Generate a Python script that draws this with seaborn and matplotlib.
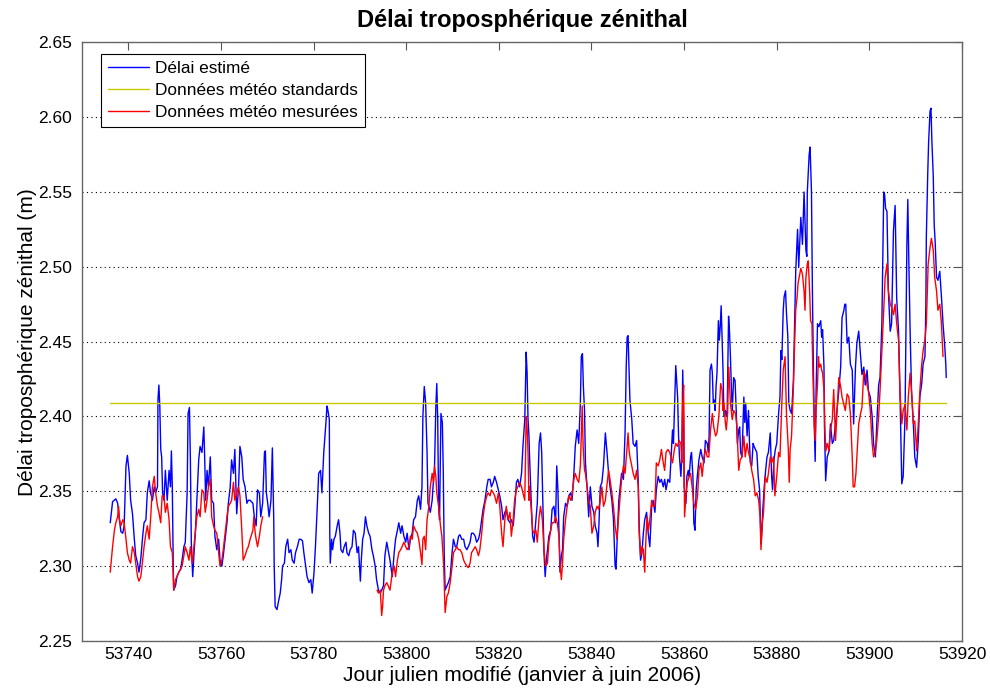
import matplotlib
matplotlib.use("Agg")
import numpy as np
import pandas as pd
import seaborn as sns
import matplotlib.pyplot as plt
from matplotlib.lines import Line2D
from matplotlib.ticker import FormatStrFormatter

# ---------------- data (days are offsets from MJD 53700) ----------------
MJD_BASE = 53700

blue_day = [
    36.1, 36.6, 37.3, 37.7, 38.0, 38.4, 38.8, 39.1, 39.5, 39.8,
    40.2, 40.5, 40.9, 41.3, 41.6, 42.0, 42.3, 42.7, 43.1, 43.4,
    43.8, 44.1, 44.5, 44.8, 45.2, 45.6, 45.9, 46.3, 46.4, 46.6,
    46.8, 47.0, 47.2, 47.4, 47.7, 48.0, 48.4, 48.8, 49.1, 49.3,
    49.5, 49.7, 49.8, 50.2, 50.5, 50.9, 51.3, 51.6, 52.0, 52.3,
    52.7, 52.9, 53.2, 53.4, 53.6, 53.9, 54.1, 54.5, 54.8, 55.2,
    55.5, 55.9, 56.3, 56.5, 56.7, 57.0, 57.3, 57.7, 58.0, 58.4,
    58.7, 59.1, 59.5, 59.8, 60.2, 60.5, 60.9, 61.3, 61.6, 62.0,
    62.3, 62.7, 63.0, 63.4, 63.8, 64.1, 64.5, 64.8, 65.2, 65.6,
    65.9, 66.3,
    66.9, 67.2, 67.6, 67.9, 68.3, 68.6, 69.0, 69.4, 69.6, 69.8,
    70.1, 70.4, 70.8, 71.1, 71.4, 71.5, 71.7, 72.1, 72.4, 72.8,
    73.1, 73.3, 73.7, 74.0, 74.4, 74.7, 75.1, 75.4, 75.8, 76.1,
    76.5, 76.9, 77.2, 77.6, 77.9, 78.3, 78.6, 79.0, 79.4, 79.7,
    80.1, 80.4, 80.8, 81.1, 81.5, 81.8, 82.2, 82.6, 82.9, 83.1,
    83.4, 83.5, 83.6, 83.9, 84.1, 84.4, 84.7, 85.1, 85.4, 85.7,
    85.9, 86.3, 86.6, 87.0, 87.2, 87.6, 87.9, 88.3, 88.6, 89.0,
    89.4, 89.7, 90.1, 90.3, 90.6, 90.9, 91.2, 91.5, 91.9, 92.2,
    92.6, 92.9, 93.3, 93.6, 94.0, 94.4, 94.7, 95.1, 95.4, 95.8,
    96.1, 96.5,
    97.0, 97.4, 97.7, 98.1, 98.4, 98.8, 99.1, 99.5, 99.9, 100.2,
    100.6, 100.9, 101.3, 101.6, 102.0, 102.4, 102.7, 103.1, 103.4, 103.6,
    103.9, 104.2, 104.5, 104.7, 104.9, 105.2, 105.6, 105.9, 106.1, 106.4,
    106.6, 106.8, 107.0, 107.2, 107.5, 107.8, 108.0, 108.2, 108.4, 108.8,
    109.1, 109.5, 109.9, 110.2, 110.6, 110.9, 111.3, 111.6, 112.0, 112.4,
    112.7, 113.1, 113.4, 113.8, 114.1, 114.5, 114.9, 115.2, 115.6, 115.9,
    116.3, 116.6, 117.0, 117.4, 117.7, 118.1, 118.4, 118.8, 119.1, 119.5,
    119.9, 120.2, 120.6, 120.9, 121.3, 121.6, 122.0, 122.4, 122.7, 123.1,
    123.4, 123.8, 124.1, 124.5, 124.9, 125.2, 125.4, 125.6, 125.9, 126.1,
    126.3, 126.5, 126.6,
    127.0, 127.3, 127.6, 128.0, 128.3, 128.7, 129.0, 129.25, 129.5, 129.75,
    130.0, 130.2, 130.5, 130.8, 131.2, 131.5, 131.9, 132.25, 132.5, 132.75,
    133.0, 133.2, 133.5, 133.75, 134.0, 134.4, 134.75, 135.1, 135.5, 135.8,
    136.2, 136.5, 136.9, 137.25, 137.6, 137.8, 138.05, 138.25, 138.5, 138.7,
    139.05, 139.4, 139.75, 140.1, 140.5, 140.8, 141.2, 141.4, 141.6, 141.9,
    142.25, 142.6, 143.0, 143.3, 143.7, 144.0, 144.4, 144.75, 145.1, 145.3,
    145.6, 145.9, 146.2, 146.5, 146.9, 147.25, 147.5, 147.7, 147.9, 148.1,
    148.3, 148.7, 149.0, 149.4, 149.75, 150.1, 150.3, 150.6, 150.9, 151.2,
    151.5, 151.9, 152.25, 152.6, 153.0, 153.3, 153.7, 154.0, 154.4, 154.75,
    155.1, 155.5, 155.8, 156.1, 156.5, 156.9,
    157.5, 157.7, 158.0, 158.2, 158.4, 158.6, 158.8, 159.0, 159.3, 159.5,
    159.7, 159.9, 160.0, 160.4, 160.6, 160.9, 161.1, 161.4, 161.6, 161.9,
    162.1, 162.35, 162.6, 162.85, 163.2, 163.6, 163.9, 164.3, 164.6, 165.0,
    165.2, 165.4, 165.6, 165.9, 166.1, 166.3, 166.5, 166.7, 166.9, 167.1,
    167.4, 167.6, 167.8, 168.0, 168.2, 168.4, 168.6, 168.9, 169.1, 169.3,
    169.6, 169.8, 170.0, 170.2, 170.4, 170.7, 171.0, 171.3, 171.5, 171.8,
    172.0, 172.2, 172.5, 172.9, 173.1, 173.3, 173.6, 173.9, 174.1, 174.3,
    174.6, 174.9, 175.1, 175.4, 175.7, 176.0, 176.3, 176.6, 176.8, 177.0,
    177.3, 177.6, 177.9, 178.2, 178.6, 178.9, 179.1, 179.4, 179.7, 180.0,
    180.4, 180.7, 180.9, 181.1, 181.4, 181.6, 181.9, 182.1, 182.4, 182.6,
    182.9, 183.2, 183.6, 183.9, 184.1, 184.5, 184.75,
    185.2, 185.55, 185.9, 186.3, 186.5, 186.6, 187.0, 187.2, 187.5, 187.7,
    187.9, 188.1, 188.3, 188.5, 188.8, 189.1, 189.5, 189.7, 189.9, 190.2,
    190.3, 190.56, 190.9, 191.3, 191.6, 192.0, 192.3, 192.7, 193.1, 193.4,
    193.8, 194.1, 194.5, 194.7, 194.9, 195.2, 195.56, 195.9, 196.3, 196.6,
    197.0, 197.3, 197.7, 198.1, 198.4, 198.8, 199.1, 199.5, 199.8, 200.2,
    200.6, 200.9, 201.3, 201.6, 202.0, 202.3, 202.7, 203.1, 203.3, 203.5,
    203.8, 204.1, 204.5, 204.8, 205.2, 205.56, 205.9, 206.3, 206.6, 207.0,
    207.3, 207.7, 208.1, 208.3, 208.5, 208.8, 209.1, 209.5, 209.8, 210.2,
    210.56, 210.9, 211.3, 211.6, 212.0, 212.2, 212.3, 212.6, 212.8, 213.1,
    213.3, 213.5, 213.8, 214.0, 214.2, 214.5, 214.8, 215.2, 215.56, 215.9,
    216.3, 216.5, 216.6,
]
blue_zwd = [
    2.329, 2.343, 2.345, 2.342, 2.333, 2.323, 2.322, 2.327, 2.367, 2.374,
    2.362, 2.344, 2.335, 2.318, 2.307, 2.302, 2.296, 2.305, 2.320, 2.329,
    2.331, 2.349, 2.357, 2.349, 2.344, 2.353, 2.349, 2.353, 2.411, 2.421,
    2.407, 2.378, 2.373, 2.349, 2.344, 2.364, 2.344, 2.364, 2.353, 2.377,
    2.353, 2.300, 2.284, 2.287, 2.293, 2.296, 2.298, 2.304, 2.313, 2.316,
    2.349, 2.402, 2.406, 2.371, 2.316, 2.293, 2.304, 2.324, 2.344, 2.371,
    2.380, 2.376, 2.393, 2.371, 2.344, 2.364, 2.353, 2.373, 2.344, 2.342,
    2.320, 2.311, 2.318, 2.304, 2.300, 2.307, 2.318, 2.329, 2.342, 2.353,
    2.371, 2.362, 2.378, 2.335, 2.353, 2.380, 2.373, 2.358, 2.353, 2.342,
    2.344, 2.344,
    2.342, 2.333, 2.327, 2.351, 2.349, 2.333, 2.342, 2.376, 2.377, 2.349,
    2.342, 2.333, 2.344, 2.379, 2.331, 2.300, 2.273, 2.271, 2.276, 2.282,
    2.291, 2.300, 2.302, 2.313, 2.318, 2.309, 2.311, 2.304, 2.302, 2.309,
    2.313, 2.318, 2.318, 2.317, 2.309, 2.300, 2.293, 2.289, 2.291, 2.282,
    2.296, 2.313, 2.340, 2.362, 2.364, 2.349, 2.376, 2.393, 2.407, 2.404,
    2.398, 2.322, 2.302, 2.318, 2.311, 2.318, 2.320, 2.327, 2.331, 2.322,
    2.311, 2.309, 2.313, 2.316, 2.309, 2.307, 2.311, 2.313, 2.324, 2.322,
    2.309, 2.313, 2.290, 2.304, 2.318, 2.322, 2.333, 2.327, 2.322, 2.320,
    2.311, 2.307, 2.300, 2.291, 2.284, 2.282, 2.284, 2.287, 2.307, 2.316,
    2.311, 2.304,
    2.293, 2.309, 2.318, 2.324, 2.329, 2.322, 2.327, 2.320, 2.316, 2.322,
    2.311, 2.318, 2.322, 2.331, 2.333, 2.344, 2.347, 2.338, 2.353, 2.400,
    2.420, 2.409, 2.376, 2.342, 2.340, 2.336, 2.344, 2.358, 2.364, 2.407,
    2.422, 2.398, 2.340, 2.331, 2.402, 2.396, 2.364, 2.309, 2.284, 2.287,
    2.289, 2.293, 2.309, 2.318, 2.313, 2.313, 2.320, 2.321, 2.318, 2.318,
    2.313, 2.311, 2.313, 2.316, 2.322, 2.322, 2.320, 2.316, 2.318, 2.322,
    2.331, 2.338, 2.344, 2.353, 2.358, 2.358, 2.353, 2.356, 2.360, 2.356,
    2.351, 2.347, 2.340, 2.331, 2.336, 2.338, 2.331, 2.329, 2.331, 2.327,
    2.338, 2.356, 2.358, 2.353, 2.362, 2.380, 2.389, 2.398, 2.443, 2.429,
    2.398, 2.387, 2.376,
    2.342, 2.320, 2.316, 2.331, 2.342, 2.382, 2.389, 2.376, 2.342, 2.309,
    2.293, 2.302, 2.311, 2.320, 2.324, 2.338, 2.340, 2.329, 2.367, 2.351,
    2.320, 2.296, 2.307, 2.311, 2.333, 2.342, 2.340, 2.347, 2.349, 2.344,
    2.362, 2.380, 2.391, 2.382, 2.409, 2.440, 2.442, 2.420, 2.404, 2.369,
    2.353, 2.333, 2.353, 2.340, 2.336, 2.327, 2.322, 2.313, 2.327, 2.353,
    2.356, 2.367, 2.389, 2.378, 2.362, 2.353, 2.344, 2.331, 2.300, 2.298,
    2.322, 2.344, 2.353, 2.362, 2.358, 2.389, 2.433, 2.453, 2.454, 2.433,
    2.411, 2.398, 2.382, 2.380, 2.384, 2.356, 2.327, 2.304, 2.309, 2.322,
    2.331, 2.336, 2.322, 2.313, 2.340, 2.344, 2.336, 2.351, 2.360, 2.356,
    2.358, 2.353, 2.358, 2.351, 2.358, 2.356,
    2.391, 2.382, 2.413, 2.434, 2.424, 2.413, 2.387, 2.373, 2.360, 2.373,
    2.431, 2.398, 2.353, 2.342, 2.360, 2.364, 2.360, 2.373, 2.376, 2.360,
    2.329, 2.324, 2.351, 2.360, 2.371, 2.378, 2.373, 2.369, 2.384, 2.382,
    2.376, 2.387, 2.431, 2.435, 2.429, 2.409, 2.411, 2.404, 2.420, 2.429,
    2.464, 2.451, 2.460, 2.474, 2.453, 2.431, 2.400, 2.404, 2.400, 2.404,
    2.467, 2.457, 2.440, 2.420, 2.404, 2.426, 2.424, 2.400, 2.382, 2.391,
    2.393, 2.376, 2.373, 2.413, 2.396, 2.409, 2.387, 2.404, 2.384, 2.369,
    2.367, 2.382, 2.380, 2.378, 2.376, 2.360, 2.351, 2.315, 2.324, 2.338,
    2.353, 2.364, 2.373, 2.376, 2.389, 2.360, 2.351, 2.371, 2.378, 2.382,
    2.402, 2.413, 2.444, 2.438, 2.471, 2.480, 2.484, 2.469, 2.453, 2.409,
    2.404, 2.402, 2.424, 2.469, 2.497, 2.525, 2.500,
    2.533, 2.515, 2.550, 2.511, 2.507, 2.550, 2.575, 2.580, 2.550, 2.484,
    2.435, 2.395, 2.370, 2.417, 2.462, 2.460, 2.464, 2.453, 2.458, 2.433,
    2.395, 2.357, 2.373, 2.377, 2.395, 2.382, 2.384, 2.395, 2.408, 2.417,
    2.433, 2.466, 2.471, 2.475, 2.475, 2.449, 2.453, 2.435, 2.431, 2.395,
    2.433, 2.449, 2.457, 2.440, 2.428, 2.433, 2.421, 2.431, 2.417, 2.413,
    2.400, 2.382, 2.373, 2.395, 2.421, 2.426, 2.462, 2.550, 2.548, 2.539,
    2.537, 2.484, 2.457, 2.462, 2.524, 2.541, 2.479, 2.457, 2.417, 2.355,
    2.360, 2.400, 2.515, 2.545, 2.507, 2.457, 2.417, 2.395, 2.373, 2.366,
    2.384, 2.413, 2.422, 2.435, 2.440, 2.475, 2.520, 2.562, 2.584, 2.604,
    2.606, 2.584, 2.560, 2.528, 2.517, 2.493, 2.491, 2.497, 2.480, 2.462,
    2.446, 2.435, 2.426,
]

# standard meteo model: constant level
std_day = [36.1, 216.6]
std_zwd = [2.409, 2.409]

# measured meteo: January segment
red_day_a = [
    36.1, 36.6, 37.0, 37.3, 37.7, 37.9, 38.1, 38.4, 38.8, 39.1,
    39.5, 39.8, 40.2, 40.5, 40.9, 41.3, 41.6, 42.0, 42.3, 42.7,
    43.1, 43.4, 43.8, 44.1, 44.5, 44.8, 45.2, 45.6, 45.9, 46.3,
    46.6, 47.0, 47.3, 47.7, 48.0, 48.4, 48.8, 49.1, 49.5, 49.7,
    49.8, 50.2, 50.5, 50.9, 51.3, 51.6, 52.0, 52.3, 52.7, 53.1,
    53.4, 53.8, 54.1, 54.5, 54.8, 55.2, 55.5, 55.9, 56.3, 56.6,
    57.0, 57.3, 57.7, 58.0, 58.4, 58.7, 59.1, 59.5, 59.8, 60.2,
    60.5, 60.9, 61.3, 61.6, 62.0, 62.3, 62.7, 63.0, 63.4, 63.8,
    64.1, 64.5, 64.8, 65.2, 65.6, 65.9, 66.3, 66.9, 67.1, 67.4,
    67.6, 67.9, 68.3, 68.6, 69.0,
]
red_zwd_a = [
    2.296, 2.313, 2.324, 2.329, 2.333, 2.340, 2.331, 2.327, 2.331, 2.329,
    2.318, 2.309, 2.304, 2.302, 2.313, 2.309, 2.302, 2.293, 2.290, 2.293,
    2.304, 2.313, 2.322, 2.327, 2.318, 2.331, 2.353, 2.360, 2.349, 2.340,
    2.336, 2.329, 2.347, 2.347, 2.336, 2.342, 2.331, 2.313, 2.309, 2.293,
    2.284, 2.291, 2.293, 2.296, 2.298, 2.300, 2.307, 2.313, 2.309, 2.304,
    2.313, 2.302, 2.311, 2.324, 2.333, 2.338, 2.333, 2.351, 2.349, 2.336,
    2.344, 2.353, 2.358, 2.333, 2.327, 2.324, 2.322, 2.309, 2.300, 2.304,
    2.311, 2.322, 2.333, 2.340, 2.342, 2.344, 2.356, 2.344, 2.349, 2.353,
    2.347, 2.324, 2.304, 2.307, 2.311, 2.313, 2.318, 2.324, 2.333, 2.322,
    2.318, 2.313, 2.320, 2.327, 2.333,
]

# measured meteo: February - June segment
red_day_b = [
    93.7, 94.0, 94.4, 94.7, 94.9, 95.1, 95.4, 95.8, 96.1, 96.5,
    97.0, 97.4, 97.7, 98.1, 98.4, 98.8, 99.1, 99.5, 99.9, 100.2,
    100.6, 100.9, 101.3, 101.6, 102.0, 102.4, 102.7, 103.1, 103.4, 103.6,
    103.9, 104.2, 104.5, 104.9, 105.2, 105.6, 105.9, 106.1, 106.4, 106.6,
    107.0, 107.4, 107.7, 108.1, 108.4, 108.8, 109.1, 109.5, 109.9, 110.2,
    110.6, 110.9, 111.3, 111.6, 112.0, 112.4, 112.7, 113.1, 113.4, 113.8,
    114.1, 114.5, 114.9, 115.2, 115.6, 115.9, 116.3, 116.6, 117.0, 117.4,
    117.7, 118.1, 118.4, 118.8, 119.1, 119.5, 119.9, 120.2, 120.6, 120.9,
    121.3, 121.6, 122.0, 122.4, 122.7, 123.1, 123.4, 123.8, 124.1, 124.5,
    124.9, 125.2, 125.6, 125.7, 125.9, 126.1, 126.3, 126.5, 126.6,
    127.0, 127.3, 127.6, 128.0, 128.3, 128.7, 129.0, 129.4, 129.75, 130.1,
    130.5, 130.8, 131.2, 131.5, 131.9, 132.25, 132.6, 133.0, 133.2, 133.5,
    133.75, 134.0, 134.4, 134.75, 135.1, 135.5, 135.8, 136.2, 136.5, 136.9,
    137.25, 137.6, 138.0, 138.2, 138.5, 138.7, 139.05, 139.4, 139.75, 140.1,
    140.5, 140.8, 141.2, 141.55, 141.9, 142.25, 142.6, 143.0, 143.3, 143.7,
    144.0, 144.4, 144.75, 145.1, 145.5, 145.8, 146.2, 146.5, 146.9, 147.25,
    147.6, 147.9, 148.1, 148.3, 148.7, 149.0, 149.4, 149.75, 150.1, 150.3,
    150.6, 150.9, 151.2, 151.5, 151.75, 152.0, 152.3, 152.6, 153.0, 153.3,
    153.7, 154.0, 154.4, 154.75, 155.1, 155.5, 155.8, 156.1, 156.5, 156.9,
    157.5, 157.9, 158.2, 158.6, 158.9, 159.3, 159.5, 159.7, 159.9, 160.0,
    160.1, 160.4, 160.7, 161.1, 161.4, 161.8, 162.1, 162.5, 162.9, 163.2,
    163.6, 163.9, 164.3, 164.6, 165.0, 165.35, 165.7, 166.1, 166.4, 166.8,
    167.1, 167.5, 167.9, 168.2, 168.4, 168.6, 168.9, 169.1, 169.4, 169.6,
    169.8, 170.0, 170.4, 170.7, 171.1, 171.4, 171.8, 172.1, 172.5, 172.9,
    173.2, 173.6, 173.9, 174.3, 174.6, 175.0, 175.35, 175.7, 176.1, 176.4,
    176.6, 176.9, 177.15, 177.5, 177.9, 178.2, 178.6, 178.9, 179.3, 179.6,
    180.0, 180.4, 180.7, 181.1, 181.4, 181.8, 182.1, 182.5, 182.7, 182.9,
    183.2, 183.6, 183.9, 184.1, 184.4, 184.6,
    185.2, 185.55, 185.9, 186.1, 186.3, 186.6, 186.8, 187.1, 187.3, 187.6,
    187.8, 188.1, 188.3, 188.5, 188.8, 189.0, 189.2, 189.5, 189.7, 189.9,
    190.2, 190.4, 190.6, 190.9, 191.3, 191.6, 192.0, 192.3, 192.7, 193.1,
    193.4, 193.8, 194.1, 194.5, 194.8, 195.2, 195.56, 195.9, 196.3, 196.5,
    196.8, 197.1, 197.3, 197.7, 198.1, 198.4, 198.8, 199.1, 199.5, 199.8,
    200.2, 200.6, 200.9, 201.3, 201.6, 202.0, 202.3, 202.7, 203.1, 203.4,
    203.8, 204.1, 204.5, 204.8, 205.2, 205.56, 205.9, 206.3, 206.6, 207.0,
    207.3, 207.7, 208.1, 208.4, 208.8, 209.1, 209.5, 209.8, 210.2, 210.56,
    210.9, 211.3, 211.6, 212.0, 212.3, 212.7, 213.1, 213.4, 213.8, 214.1,
    214.5, 214.8, 215.2, 215.56, 215.9,
]
red_zwd_b = [
    2.284, 2.282, 2.284, 2.267, 2.273, 2.284, 2.287, 2.289, 2.287, 2.284,
    2.296, 2.300, 2.293, 2.304, 2.309, 2.311, 2.313, 2.316, 2.313, 2.311,
    2.313, 2.320, 2.318, 2.327, 2.324, 2.322, 2.318, 2.309, 2.301, 2.318,
    2.320, 2.311, 2.331, 2.340, 2.353, 2.362, 2.356, 2.367, 2.360, 2.349,
    2.340, 2.327, 2.320, 2.300, 2.269, 2.280, 2.282, 2.289, 2.300, 2.309,
    2.311, 2.313, 2.311, 2.311, 2.309, 2.304, 2.302, 2.300, 2.299, 2.302,
    2.309, 2.311, 2.313, 2.311, 2.307, 2.311, 2.322, 2.333, 2.342, 2.347,
    2.349, 2.347, 2.351, 2.349, 2.347, 2.342, 2.349, 2.340, 2.322, 2.313,
    2.331, 2.340, 2.331, 2.336, 2.320, 2.331, 2.344, 2.351, 2.353, 2.356,
    2.353, 2.349, 2.344, 2.364, 2.400, 2.393, 2.376, 2.344, 2.353,
    2.338, 2.324, 2.322, 2.324, 2.316, 2.333, 2.340, 2.331, 2.311, 2.300,
    2.302, 2.316, 2.324, 2.329, 2.329, 2.333, 2.329, 2.320, 2.302, 2.291,
    2.302, 2.318, 2.331, 2.340, 2.347, 2.344, 2.347, 2.358, 2.362, 2.358,
    2.356, 2.367, 2.407, 2.380, 2.364, 2.362, 2.353, 2.344, 2.340, 2.322,
    2.327, 2.336, 2.340, 2.338, 2.344, 2.353, 2.340, 2.344, 2.353, 2.364,
    2.358, 2.349, 2.340, 2.327, 2.318, 2.331, 2.347, 2.358, 2.367, 2.362,
    2.376, 2.389, 2.378, 2.373, 2.367, 2.362, 2.358, 2.364, 2.353, 2.322,
    2.307, 2.313, 2.311, 2.296, 2.318, 2.333, 2.324, 2.331, 2.344, 2.340,
    2.340, 2.369, 2.367, 2.371, 2.378, 2.369, 2.364, 2.376, 2.378, 2.376,
    2.369, 2.378, 2.382, 2.380, 2.384, 2.382, 2.369, 2.409, 2.421, 2.373,
    2.333, 2.347, 2.356, 2.360, 2.362, 2.351, 2.342, 2.338, 2.347, 2.364,
    2.369, 2.360, 2.373, 2.378, 2.373, 2.373, 2.391, 2.402, 2.393, 2.387,
    2.389, 2.400, 2.422, 2.418, 2.404, 2.409, 2.396, 2.391, 2.402, 2.433,
    2.422, 2.409, 2.398, 2.404, 2.402, 2.393, 2.364, 2.371, 2.373, 2.387,
    2.373, 2.382, 2.376, 2.371, 2.364, 2.358, 2.347, 2.349, 2.344, 2.333,
    2.311, 2.329, 2.336, 2.360, 2.356, 2.362, 2.373, 2.369, 2.373, 2.347,
    2.360, 2.376, 2.373, 2.409, 2.431, 2.440, 2.402, 2.378, 2.356, 2.378,
    2.387, 2.420, 2.453, 2.471, 2.480, 2.489,
    2.499, 2.495, 2.484, 2.471, 2.493, 2.502, 2.504, 2.484, 2.464, 2.462,
    2.430, 2.395, 2.384, 2.406, 2.421, 2.440, 2.433, 2.435, 2.431, 2.429,
    2.418, 2.391, 2.377, 2.382, 2.377, 2.391, 2.398, 2.418, 2.384, 2.408,
    2.426, 2.420, 2.413, 2.408, 2.404, 2.415, 2.413, 2.402, 2.373, 2.353,
    2.353, 2.362, 2.373, 2.395, 2.402, 2.406, 2.430, 2.428, 2.421, 2.417,
    2.404, 2.382, 2.373, 2.377, 2.384, 2.400, 2.417, 2.444, 2.471, 2.493,
    2.502, 2.484, 2.475, 2.473, 2.468, 2.475, 2.462, 2.451, 2.417, 2.395,
    2.404, 2.408, 2.391, 2.413, 2.429, 2.417, 2.395, 2.397, 2.377, 2.395,
    2.417, 2.435, 2.444, 2.451, 2.462, 2.502, 2.513, 2.519, 2.511, 2.493,
    2.484, 2.471, 2.475, 2.462, 2.440,
]

x_ticks = [53740, 53760, 53780, 53800, 53820, 53840, 53860, 53880, 53900, 53920]
y_ticks = [2.25, 2.30, 2.35, 2.40, 2.45, 2.50, 2.55, 2.60, 2.65]
legend_labels = ["Délai estimé", "Données météo standards", "Données météo mesurées"]

BLUE = "#0000ff"
YELLOW = "#c8c800"
RED = "#ff0000"

# ---------------- figure ----------------
sns.set_theme(style="white")
plt.rcParams['font.family'] = ['Liberation Sans', 'DejaVu Sans']
plt.rcParams['text.color'] = 'black'
plt.rcParams['axes.labelcolor'] = 'black'

fig = plt.figure(figsize=(9.9, 6.92), dpi=100)
ax = fig.add_axes([82 / 990, 1 - 641 / 692, 880 / 990, (641 - 42.3) / 692])

blue_df = pd.DataFrame({"day": MJD_BASE + np.array(blue_day), "zwd": blue_zwd})
std_df = pd.DataFrame({"day": MJD_BASE + np.array(std_day), "zwd": std_zwd})
red_df = pd.concat([
    pd.DataFrame({"day": MJD_BASE + np.array(red_day_a), "zwd": red_zwd_a, "seg": 0}),
    pd.DataFrame({"day": MJD_BASE + np.array(red_day_b), "zwd": red_zwd_b, "seg": 1}),
], ignore_index=True)

sns.lineplot(data=blue_df, x="day", y="zwd", estimator=None, sort=False,
             color=BLUE, linewidth=1.0, ax=ax, zorder=3)
sns.lineplot(data=std_df, x="day", y="zwd", estimator=None, sort=False,
             color=YELLOW, linewidth=1.0, ax=ax, zorder=4)
sns.lineplot(data=red_df, x="day", y="zwd", units="seg", estimator=None, sort=False,
             color=RED, linewidth=1.0, ax=ax, zorder=5)

ax.set_xlim(53730, 53920)
ax.set_ylim(2.25, 2.65)
ax.set_xticks(x_ticks)
ax.set_yticks(y_ticks)
ax.yaxis.set_major_formatter(FormatStrFormatter('%.2f'))

ax.tick_params(direction='in', length=6, width=0.8, top=True, right=True,
               labelsize=12.5, colors='#555555', labelcolor='black')
ax.tick_params(axis='x', pad=4.3)
ax.tick_params(axis='y', pad=7)

ax.set_axisbelow(True)
ax.yaxis.grid(True, linestyle=(0, (1, 3)), color='black', linewidth=0.8)
ax.xaxis.grid(False)
for sp in ax.spines.values():
    sp.set_color('#666666')
    sp.set_linewidth(1.0)
    sp.set_visible(True)

ax.set_title("Délai troposphérique zénithal", fontsize=17, fontweight='bold',
             pad=11, color='black')
ax.set_xlabel("Jour julien modifié (janvier à juin 2006)", fontsize=15, labelpad=3,
              color='black')
ax.set_ylabel("Délai troposphérique zénithal (m)", fontsize=15, labelpad=1,
              color='black')

handles = [Line2D([], [], color=BLUE, lw=1.0),
           Line2D([], [], color=YELLOW, lw=1.0),
           Line2D([], [], color=RED, lw=1.0)]
leg = ax.legend(handles, legend_labels, loc='upper left', bbox_to_anchor=(0.0212, 0.9805),
                borderaxespad=0, fontsize=12.4, frameon=True, fancybox=False,
                edgecolor='black', framealpha=1, handlelength=2.4, handletextpad=0.35,
                labelspacing=0.42, borderpad=0.4)
leg.get_frame().set_linewidth(0.8)
leg.set_zorder(10)
for t in leg.get_texts():
    t.set_color('black')

fig.savefig("out.png", dpi=100)
